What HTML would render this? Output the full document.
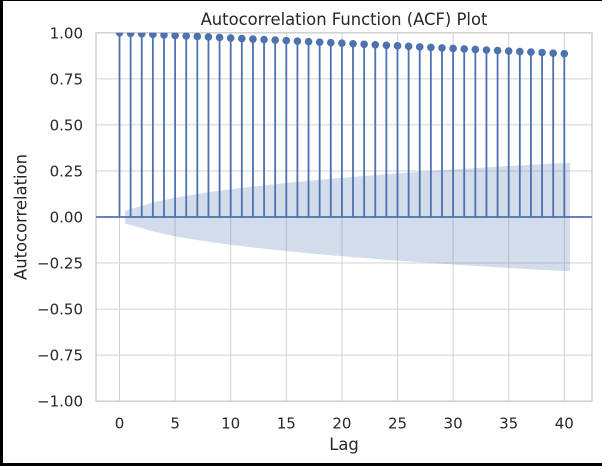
<!DOCTYPE html>
<html>
<head>
<meta charset="utf-8">
<style>
html,body{margin:0;padding:0;background:#fff;}
body{width:602px;height:466px;overflow:hidden;}
svg{display:block;}
text{font-family:"DejaVu Sans","Liberation Sans",sans-serif;fill:#262626;}
</style>
</head>
<body>
<svg width="602" height="466" viewBox="0 0 602 466" xmlns="http://www.w3.org/2000/svg">
<rect x="0" y="0" width="602" height="466" fill="#fff"/>
<defs>
<clipPath id="ax"><rect x="96" y="32.8" width="496" height="368.4"/></clipPath>
</defs>
<!-- grid -->
<g stroke="#d3d3d3" stroke-width="1" fill="none">
<path d="M119.5 32.8V401.2M175.1 32.8V401.2M230.7 32.8V401.2M286.3 32.8V401.2M341.9 32.8V401.2M397.5 32.8V401.2M453.1 32.8V401.2M508.7 32.8V401.2M564.3 32.8V401.2"/>
<path d="M96 78.85H592M96 124.9H592M96 170.95H592M96 217H592M96 263.05H592M96 309.1H592M96 355.15H592"/>
</g>
<!-- confidence band -->
<path fill="#4c72b0" fill-opacity="0.25" d="M125.06 210.55 L141.74 205.83 L152.86 202.62 L163.98 200.03 L175.10 197.78 L186.22 195.77 L197.34 193.96 L208.46 192.29 L219.58 190.72 L230.70 189.26 L241.82 187.88 L252.94 186.57 L264.06 185.32 L275.18 184.12 L286.30 182.98 L297.42 181.87 L308.54 180.80 L319.66 179.77 L330.78 178.78 L341.90 177.82 L353.02 176.90 L364.14 175.97 L375.26 175.09 L386.38 174.24 L397.50 173.39 L408.62 172.58 L419.74 171.79 L430.86 171.02 L441.98 170.24 L453.10 169.51 L464.22 168.77 L475.34 168.07 L486.46 167.37 L497.58 166.69 L508.70 166.00 L519.82 165.36 L530.94 164.71 L542.06 164.07 L553.18 163.44 L569.86 162.83 L569.86 271.17 L553.18 270.56 L542.06 269.93 L530.94 269.29 L519.82 268.64 L508.70 268.00 L497.58 267.31 L486.46 266.63 L475.34 265.93 L464.22 265.23 L453.10 264.49 L441.98 263.76 L430.86 262.98 L419.74 262.21 L408.62 261.42 L397.50 260.61 L386.38 259.76 L375.26 258.91 L364.14 258.03 L353.02 257.10 L341.90 256.18 L330.78 255.22 L319.66 254.23 L308.54 253.20 L297.42 252.13 L286.30 251.02 L275.18 249.88 L264.06 248.68 L252.94 247.43 L241.82 246.12 L230.70 244.74 L219.58 243.28 L208.46 241.71 L197.34 240.04 L186.22 238.23 L175.10 236.22 L163.98 233.97 L152.86 231.38 L141.74 228.17 L125.06 223.45 Z"/>
<!-- spines -->
<rect x="96" y="32.8" width="496" height="368.4" fill="none" stroke="#cccccc" stroke-width="1.4"/>
<!-- zero line -->
<path d="M96 217H592" stroke="#4c72b0" stroke-width="1.8"/>
<!-- stems -->
<g clip-path="url(#ax)">
<path stroke="#4c72b0" stroke-width="1.8" fill="none" d="M119.5 217V32.8M130.62 217V33.32M141.74 217V33.84M152.86 217V34.36M163.98 217V34.89M175.10 217V35.41M186.22 217V35.93M197.34 217V36.45M208.46 217V36.97M219.58 217V37.49M230.70 217V38.01M241.82 217V38.53M252.94 217V39.06M264.06 217V39.58M275.18 217V40.10M286.30 217V40.62M297.42 217V41.14M308.54 217V41.66M319.66 217V42.18M330.78 217V42.70M341.90 217V43.23M353.02 217V43.75M364.14 217V44.27M375.26 217V44.79M386.38 217V45.31M397.50 217V45.83M408.62 217V46.35M419.74 217V46.88M430.86 217V47.40M441.98 217V47.92M453.10 217V48.44M464.22 217V48.96M475.34 217V49.48M486.46 217V50.00M497.58 217V50.52M508.70 217V51.05M519.82 217V51.57M530.94 217V52.09M542.06 217V52.61M553.18 217V53.13M564.30 217V53.65"/>
<g fill="#4c72b0">
<circle cx="119.5" cy="32.8" r="3.8"/><circle cx="130.62" cy="33.32" r="3.8"/><circle cx="141.74" cy="33.84" r="3.8"/><circle cx="152.86" cy="34.36" r="3.8"/><circle cx="163.98" cy="34.89" r="3.8"/><circle cx="175.10" cy="35.41" r="3.8"/><circle cx="186.22" cy="35.93" r="3.8"/><circle cx="197.34" cy="36.45" r="3.8"/><circle cx="208.46" cy="36.97" r="3.8"/><circle cx="219.58" cy="37.49" r="3.8"/><circle cx="230.70" cy="38.01" r="3.8"/><circle cx="241.82" cy="38.53" r="3.8"/><circle cx="252.94" cy="39.06" r="3.8"/><circle cx="264.06" cy="39.58" r="3.8"/><circle cx="275.18" cy="40.10" r="3.8"/><circle cx="286.30" cy="40.62" r="3.8"/><circle cx="297.42" cy="41.14" r="3.8"/><circle cx="308.54" cy="41.66" r="3.8"/><circle cx="319.66" cy="42.18" r="3.8"/><circle cx="330.78" cy="42.70" r="3.8"/><circle cx="341.90" cy="43.23" r="3.8"/><circle cx="353.02" cy="43.75" r="3.8"/><circle cx="364.14" cy="44.27" r="3.8"/><circle cx="375.26" cy="44.79" r="3.8"/><circle cx="386.38" cy="45.31" r="3.8"/><circle cx="397.50" cy="45.83" r="3.8"/><circle cx="408.62" cy="46.35" r="3.8"/><circle cx="419.74" cy="46.88" r="3.8"/><circle cx="430.86" cy="47.40" r="3.8"/><circle cx="441.98" cy="47.92" r="3.8"/><circle cx="453.10" cy="48.44" r="3.8"/><circle cx="464.22" cy="48.96" r="3.8"/><circle cx="475.34" cy="49.48" r="3.8"/><circle cx="486.46" cy="50.00" r="3.8"/><circle cx="497.58" cy="50.52" r="3.8"/><circle cx="508.70" cy="51.05" r="3.8"/><circle cx="519.82" cy="51.57" r="3.8"/><circle cx="530.94" cy="52.09" r="3.8"/><circle cx="542.06" cy="52.61" r="3.8"/><circle cx="553.18" cy="53.13" r="3.8"/><circle cx="564.30" cy="53.65" r="3.8"/>
</g>
</g>
<!-- y tick labels -->
<g font-size="15" text-anchor="end">
<text x="83" y="38.3">1.00</text>
<text x="83" y="84.35">0.75</text>
<text x="83" y="130.4">0.50</text>
<text x="83" y="176.45">0.25</text>
<text x="83" y="222.5">0.00</text>
<text x="83" y="268.55">−0.25</text>
<text x="83" y="314.6">−0.50</text>
<text x="83" y="360.65">−0.75</text>
<text x="83" y="406.7">−1.00</text>
</g>
<!-- x tick labels -->
<g font-size="15" text-anchor="middle">
<text x="119.5" y="428.3">0</text>
<text x="175.1" y="428.3">5</text>
<text x="230.7" y="428.3">10</text>
<text x="286.3" y="428.3">15</text>
<text x="341.9" y="428.3">20</text>
<text x="397.5" y="428.3">25</text>
<text x="453.1" y="428.3">30</text>
<text x="508.7" y="428.3">35</text>
<text x="564.3" y="428.3">40</text>
</g>
<!-- axis labels & title -->
<text x="344" y="450" font-size="16.4" text-anchor="middle">Lag</text>
<text transform="translate(26.5,217) rotate(-90)" font-size="16.4" text-anchor="middle">Autocorrelation</text>
<text x="344" y="25" font-size="16.4" text-anchor="middle">Autocorrelation Function (ACF) Plot</text>
<!-- black frame -->
<rect x="0" y="0" width="602" height="1" fill="#000"/>
<rect x="0" y="0" width="3" height="466" fill="#000"/>
<rect x="0" y="463" width="602" height="3" fill="#000"/>
</svg>
</body>
</html>
